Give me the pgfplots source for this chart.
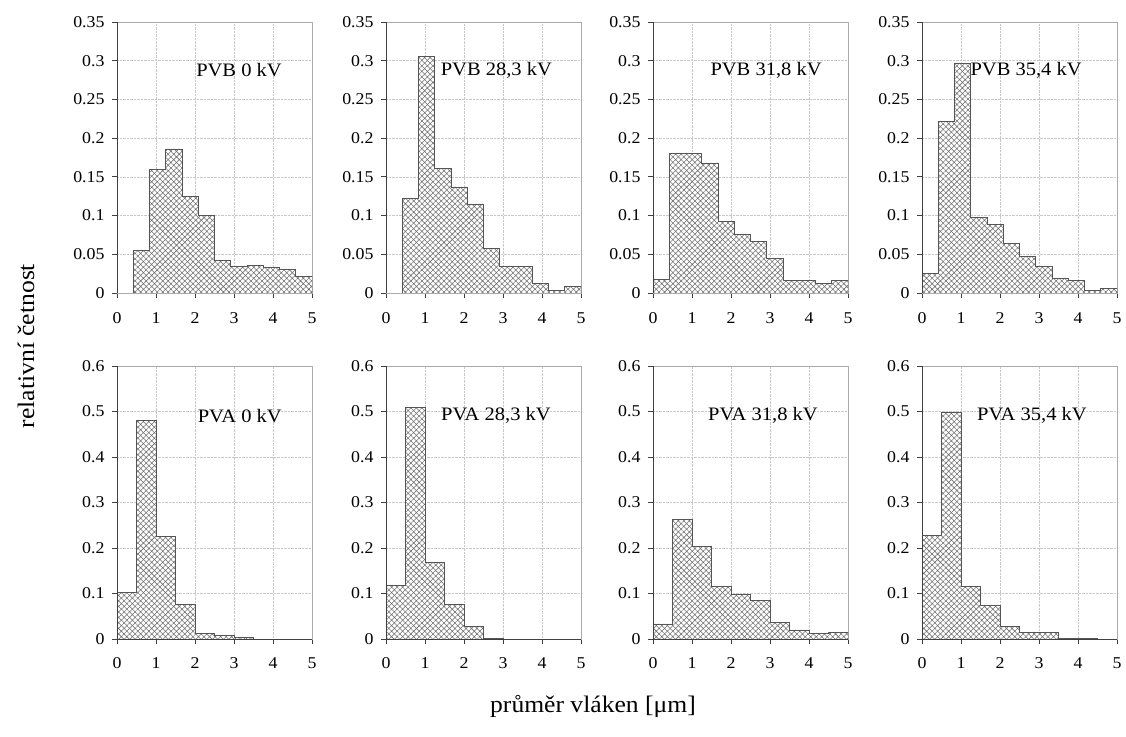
\documentclass[border=0pt]{standalone}
\usepackage{fontspec}
\setmainfont[FakeStretch=1.08]{Liberation Serif}
\usepackage{pgfplots}
\pgfplotsset{compat=1.18}
\usetikzlibrary{patterns.meta}
\definecolor{framegray}{HTML}{ABABAB}
\definecolor{gridgray}{HTML}{C8C8C8}
\definecolor{bardraw}{HTML}{555555}
\definecolor{hatchgray}{HTML}{707070}
\pgfplotsset{
  hist/.style={
    scale only axis, width=195pt,
    xmin=0, xmax=5, xtick={0,1,2,3,4,5}, xticklabels={0,1,2,3,4,5},
    grid=major, grid style={gridgray, densely dotted, line width=0.6pt},
    axis line style={framegray, line width=0.7pt},
    tick align=outside, xtick pos=bottom, ytick pos=left,
    major tick length=5pt, tick style={black!75, line width=0.8pt},
    tick label style={font=\fontsize{16.5}{19}\selectfont},
    yticklabel style={xshift=-4pt},
  },
  toprow/.style={hist, height=271pt, ymin=0, ymax=0.35,
    ytick={0,0.05,0.1,0.15,0.2,0.25,0.3,0.35},
    yticklabels={0,0.05,0.1,0.15,0.2,0.25,0.3,0.35},
    xticklabel style={yshift=-11pt}},
  botrow/.style={hist, height=273pt, ymin=0, ymax=0.6,
    ytick={0,0.1,0.2,0.3,0.4,0.5,0.6},
    yticklabels={0,0.1,0.2,0.3,0.4,0.5,0.6},
    xticklabel style={yshift=-10pt}},
  histbars/.style={const plot mark left, draw=bardraw, line width=0.8pt, fill=white,
    postaction={pattern color=hatchgray, pattern={Hatch[angle=45,distance=3.9pt,line width=0.55pt]}}},
}
\tikzset{panellab/.style={anchor=east, inner sep=0pt, font=\fontsize{19}{23}\selectfont}}
\newcommand{\darkframe}{\draw[black!75, line width=0.9pt] (rel axis cs:0,1) -- (rel axis cs:0,0) -- (rel axis cs:1,0);}
\begin{document}
\begin{tikzpicture}
\useasboundingbox (0pt,0pt) rectangle (1126pt,736pt);
% ---------------- top row: PVB (bin width 5/12) ----------------
\begin{axis}[toprow, at={(117pt,443pt)}, anchor=south west]
\addplot[histbars] coordinates {(0.4167,0) (0.4167,0.055) (0.8333,0.160) (1.25,0.186) (1.6667,0.125) (2.0833,0.100) (2.5,0.042) (2.9167,0.034) (3.3333,0.036) (3.75,0.033) (4.1667,0.030) (4.5833,0.021) (5,0.021) (5,0)} -- cycle;
\darkframe
\node[panellab] at (axis cs:4.23,0.288) {PVB 0 kV};
\end{axis}
\begin{axis}[toprow, at={(386pt,443pt)}, anchor=south west]
\addplot[histbars] coordinates {(0.4167,0) (0.4167,0.122) (0.8333,0.305) (1.25,0.161) (1.6667,0.137) (2.0833,0.115) (2.5,0.058) (2.9167,0.034) (3.3333,0.034) (3.75,0.012) (4.1667,0.003) (4.5833,0.009) (5,0.009) (5,0)} -- cycle;
\darkframe
\node[panellab] at (axis cs:4.26,0.288) {PVB 28,3 kV};
\end{axis}
\begin{axis}[toprow, at={(653pt,443pt)}, anchor=south west]
\addplot[histbars] coordinates {(0,0) (0,0.018) (0.4167,0.180) (0.8333,0.180) (1.25,0.168) (1.6667,0.092) (2.0833,0.076) (2.5,0.067) (2.9167,0.045) (3.3333,0.016) (3.75,0.016) (4.1667,0.012) (4.5833,0.016) (5,0.016) (5,0)} -- cycle;
\darkframe
\node[panellab] at (axis cs:4.33,0.288) {PVB 31,8 kV};
\end{axis}
\begin{axis}[toprow, at={(922pt,443pt)}, anchor=south west]
\addplot[histbars] coordinates {(0,0) (0,0.025) (0.4167,0.222) (0.8333,0.296) (1.25,0.098) (1.6667,0.089) (2.0833,0.064) (2.5,0.047) (2.9167,0.034) (3.3333,0.019) (3.75,0.016) (4.1667,0.003) (4.5833,0.006) (5,0.006) (5,0)} -- cycle;
\darkframe
\node[panellab] at (axis cs:4.1,0.288) {PVB 35,4 kV};
\end{axis}
% ---------------- bottom row: PVA (bin width 0.5) ----------------
\begin{axis}[botrow, at={(117pt,97pt)}, anchor=south west]
\addplot[histbars] coordinates {(0,0) (0,0.103) (0.5,0.481) (1,0.225) (1.5,0.076) (2,0.013) (2.5,0.007) (3,0.003) (3.5,0.003) (3.5,0)} -- cycle;
\darkframe
\node[panellab] at (axis cs:4.23,0.491) {PVA 0 kV};
\end{axis}
\begin{axis}[botrow, at={(386pt,97pt)}, anchor=south west]
\addplot[histbars] coordinates {(0,0) (0,0.118) (0.5,0.508) (1,0.168) (1.5,0.076) (2,0.028) (2.5,0.002) (3,0.002) (3,0)} -- cycle;
\darkframe
\node[panellab] at (axis cs:4.23,0.491) {PVA 28,3 kV};
\end{axis}
\begin{axis}[botrow, at={(653pt,97pt)}, anchor=south west]
\addplot[histbars] coordinates {(0,0) (0,0.033) (0.5,0.262) (1,0.203) (1.5,0.116) (2,0.098) (2.5,0.085) (3,0.036) (3.5,0.020) (4,0.012) (4.5,0.015) (5,0.015) (5,0)} -- cycle;
\darkframe
\node[panellab] at (axis cs:4.23,0.491) {PVA 31,8 kV};
\end{axis}
\begin{axis}[botrow, at={(922pt,97pt)}, anchor=south west]
\addplot[histbars] coordinates {(0,0) (0,0.228) (0.5,0.499) (1,0.115) (1.5,0.073) (2,0.028) (2.5,0.015) (3,0.015) (3.5,0.002) (4,0.002) (4.5,0.002) (4.5,0)} -- cycle;
\darkframe
\node[panellab] at (axis cs:4.23,0.491) {PVA 35,4 kV};
\end{axis}
% ---------------- shared labels ----------------
\node[font=\fontsize{23.7}{28}\selectfont, rotate=90] at (26pt,390pt) {relativní četnost};
\node[font=\fontsize{23.7}{28}\selectfont] at (593pt,30pt) {průměr vláken [μm]};
\end{tikzpicture}
\end{document}
